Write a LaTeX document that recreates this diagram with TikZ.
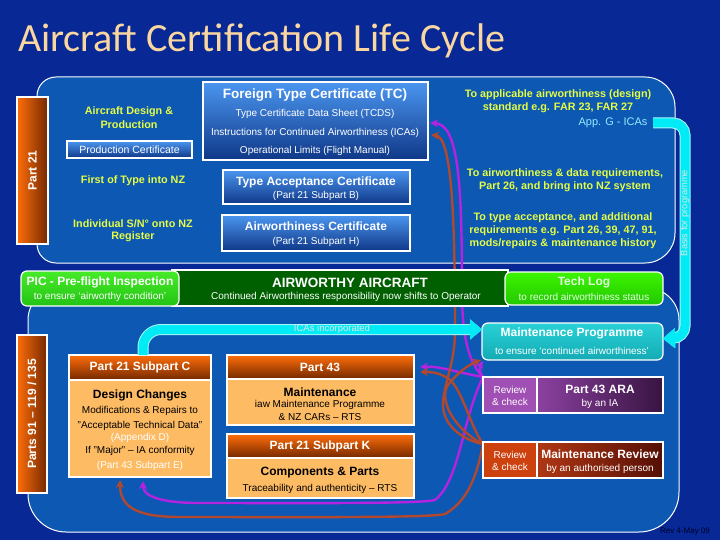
\documentclass[tikz,border=0pt]{standalone}
\usepackage{fontspec}
\setmainfont{Liberation Sans}
\newfontfamily\titlefont{Carlito}
\usetikzlibrary{arrows.meta,calc}
\pgfdeclarelayer{bg}
\pgfdeclarelayer{mid}
\pgfsetlayers{bg,mid,main}
\definecolor{bgblue}{RGB}{8,40,150}
\definecolor{panelblue}{RGB}{12,88,178}
\definecolor{ylw}{RGB}{228,252,70}
\definecolor{titlec}{RGB}{250,215,160}
\definecolor{boxtop}{RGB}{75,150,240}
\definecolor{boxbot}{RGB}{15,55,135}
\definecolor{orgL}{RGB}{255,110,10}
\definecolor{orgD}{RGB}{115,40,0}
\definecolor{lorange}{RGB}{253,187,100}
\definecolor{dgreen}{RGB}{0,96,0}
\definecolor{lgreenT}{RGB}{70,235,40}
\definecolor{lgreenB}{RGB}{35,195,20}
\definecolor{tlgT}{RGB}{60,245,0}
\definecolor{tlgB}{RGB}{35,200,0}
\definecolor{tealT}{RGB}{40,210,215}
\definecolor{tealB}{RGB}{20,170,180}
\definecolor{cyanband}{RGB}{0,235,245}
\definecolor{purp}{RGB}{180,35,225}
\definecolor{brn}{RGB}{178,72,45}
\definecolor{araL}{RGB}{160,80,180}
\definecolor{araR1}{RGB}{140,65,160}
\definecolor{araR2}{RGB}{55,20,65}
\definecolor{mrL}{RGB}{205,65,15}
\definecolor{mrR1}{RGB}{175,55,20}
\definecolor{mrR2}{RGB}{85,15,5}
\definecolor{palecyan}{RGB}{150,235,255}
\tikzset{
 rectbox/.style={draw=white, line width=1.2pt, anchor=north west, inner sep=0pt, outer sep=0pt},
 bluegrad/.style={rectbox, top color=boxtop, bottom color=boxbot},
 orangebar/.style={rectbox, left color=orgL, right color=orgD},
 orghead/.style={rectbox, top color=orgL, bottom color=orgD},
 orgbody/.style={rectbox, fill=lorange},
 panel/.style={draw=white, line width=1pt, fill=panelblue},
 ytxt/.style={text=ylw, font=\bfseries\fontsize{10.8}{13}\selectfont},
 wtxt/.style={text=white, font=\fontsize{10}{12}\selectfont},
 wbold/.style={text=white, font=\bfseries\fontsize{12}{14}\selectfont},
 ktxt/.style={text=black, font=\fontsize{10}{12}\selectfont},
 kbold/.style={text=black, font=\bfseries\fontsize{12}{14}\selectfont},
 conn/.style={line width=2.4pt, -{Stealth[length=8pt,width=8pt]}},
 pconn/.style={conn, draw=purp},
 bconn/.style={conn, draw=brn},
 band/.style={draw=cyanband, line width=9pt, preaction={draw=white!65!cyanband, line width=11pt}},
 bandtip/.style={-{Triangle[length=12pt,width=20pt,line width=0.1pt]}},
}
\begin{document}
\begin{tikzpicture}[x=1pt,y=-1pt]
\useasboundingbox (0,0) rectangle (720,540);

% panels
\begin{pgfonlayer}{bg}
\fill[bgblue] (0,0) rectangle (720,540);
\path[panel] (56,77) -- (645,77) .. controls (661.6,77) and (675,90.4) .. (675,107)
  -- (675,233) .. controls (675,249.6) and (661.6,263) .. (645,263)
  -- (56,263) .. controls (45.5,263) and (37,254.5) .. (37,244)
  -- (37,96) .. controls (37,85.5) and (45.5,77) .. (56,77) -- cycle;
\path[panel] (60,288) -- (647,288) .. controls (664.7,288) and (679,302.3) .. (679,320)
  -- (679,492) .. controls (679,514.1) and (661.1,532) .. (639,532)
  -- (66,532) .. controls (45,532) and (28,515) .. (28,494)
  -- (28,320) .. controls (28,302.3) and (42.3,288) .. (60,288) -- cycle;
\end{pgfonlayer}

% title
\node[anchor=base west, inner sep=0pt, text=titlec, font=\titlefont\fontsize{40}{48}\selectfont] (title) at (18,52) {Aircraft Certification Life Cycle};

% ---- top panel content
\node[orangebar, minimum width=31pt, minimum height=147pt] (p21bar) at (17,97) {};
\node[wbold, rotate=90] (p21txt) at (p21bar.center) {Part 21};

\node[ytxt] (adp1) at (129,112) {Aircraft Design \&};
\node[ytxt] (adp2) at (129,125) {Production};
\node[bluegrad, minimum width=125pt, minimum height=17pt] (pc) at (67,141) {};
\node[wtxt, font=\fontsize{10.5}{12}\selectfont] (pct) at (pc.center) {Production Certificate};
\node[ytxt] (fti) at (133,181) {First of Type into NZ};
\node[ytxt] (isn1) at (133,224) {Individual S/N° onto NZ};
\node[ytxt] (isn2) at (133,237) {Register};

\node[bluegrad, minimum width=225pt, minimum height=78pt] (tc) at (203,82) {};
\node[wbold, font=\bfseries\fontsize{13.5}{15}\selectfont] (tc1) at (315,95) {Foreign Type Certificate (TC)};
\node[wtxt] (tc2) at (315,114) {Type Certificate Data Sheet (TCDS)};
\node[wtxt] (tc3) at (315,133) {Instructions for Continued Airworthiness (ICAs)};
\node[wtxt] (tc4) at (315,151) {Operational Limits (Flight Manual)};

\node[bluegrad, minimum width=187pt, minimum height=34pt] (tac) at (223,170) {};
\node[wbold] (tac1) at (316,182) {Type Acceptance Certificate};
\node[wtxt] (tac2) at (316,196) {(Part 21 Subpart B)};
\node[bluegrad, minimum width=188pt, minimum height=36pt] (awc) at (222,215) {};
\node[wbold] (awc1) at (316,226) {Airworthiness Certificate};
\node[wtxt] (awc2) at (316,242) {(Part 21 Subpart H)};

\node[ytxt] (std1) at (558,95) {To applicable airworthiness (design)};
\node[ytxt] (std2) at (558,108) {standard e.g. FAR 23, FAR 27};
\node[anchor=east, text=palecyan, font=\fontsize{11}{13}\selectfont] (appg) at (651,123) {App. G - ICAs};
\node[ytxt] (nz1) at (565,174) {To airworthiness \& data requirements,};
\node[ytxt] (nz2) at (565,187) {Part 26, and bring into NZ system};
\node[ytxt] (ta1) at (563,218) {To type acceptance, and additional};
\node[ytxt] (ta2) at (563,231) {requirements e.g. Part 26, 39, 47, 91,};
\node[ytxt] (ta3) at (563,244) {mods/repairs \& maintenance history};

% ---- middle bars
\node[rectbox, fill=dgreen, minimum width=336pt, minimum height=36pt] (awbar) at (172,270) {};
\node[wbold, font=\bfseries\fontsize{13.5}{15}\selectfont] (aw1) at (350,283) {AIRWORTHY AIRCRAFT};
\node[wtxt] (aw2) at (346,297) {Continued Airworthiness responsibility now shifts to Operator};

\node[rectbox, rounded corners=6pt, top color=lgreenT, bottom color=lgreenB, minimum width=158pt, minimum height=35pt] (pic) at (21,271) {};
\node[wbold] (pic1) at (100,282) {PIC - Pre-flight Inspection};
\node[wtxt] (pic2) at (100,297) {to ensure `airworthy condition'};

\node[rectbox, rounded corners=6pt, top color=tlgT, bottom color=tlgB, minimum width=158pt, minimum height=33pt] (tl) at (505,272) {};
\node[wbold, text=white!88!green] (tl1) at (584,282) {Tech Log};
\node[wtxt, text=white!88!green] (tl2) at (584,297) {to record airworthiness status};

\node[rectbox, rounded corners=6pt, top color=tealT, bottom color=tealB, minimum width=181pt, minimum height=37pt] (mp) at (482,323) {};
\node[wbold] (mp1) at (572,333) {Maintenance Programme};
\node[wtxt] (mp2) at (572,351) {to ensure `continued airworthiness'};

% ---- bottom panel content
\node[orangebar, minimum width=30pt, minimum height=158pt] (p91bar) at (17,335) {};
\node[wbold, rotate=90] (p91txt) at (p91bar.center) {Parts 91 – 119 / 135};

\node[orghead, minimum width=142pt, minimum height=25pt] (p21ch) at (69,355) {};
\node[orgbody, minimum width=142pt, minimum height=97pt] (p21cb) at (69,380) {};
\node[wbold] (p21c0) at (140,367) {Part 21 Subpart C};
\node[kbold] (p21c1) at (140,395) {Design Changes};
\node[ktxt] (p21c2) at (140,411) {Modifications \& Repairs to};
\node[ktxt] (p21c3) at (140,426) {"Acceptable Technical Data"};
\node[wtxt] (p21c4) at (140,438) {(Appendix D)};
\node[ktxt] (p21c5) at (140,451) {If "Major" – IA conformity};
\node[wtxt] (p21c6) at (140,466) {(Part 43 Subpart E)};

\node[orghead, minimum width=187pt, minimum height=24pt] (p43h) at (227,355) {};
\node[orgbody, minimum width=187pt, minimum height=46pt] (p43b) at (227,379) {};
\node[wbold] (p430) at (320,367) {Part 43};
\node[kbold] (p431) at (320,392) {Maintenance};
\node[ktxt] (p432) at (320,405) {iaw Maintenance Programme};
\node[ktxt] (p433) at (320,417) {\& NZ CARs – RTS};

\node[orghead, minimum width=187pt, minimum height=24pt] (p21kh) at (227,434) {};
\node[orgbody, minimum width=187pt, minimum height=40pt] (p21kb) at (227,458) {};
\node[wbold] (p21k0) at (320,446) {Part 21 Subpart K};
\node[kbold] (p21k1) at (320,473) {Components \& Parts};
\node[ktxt] (p21k2) at (320,489) {Traceability and authenticity – RTS};

\node[rectbox, fill=araL, minimum width=54pt, minimum height=36pt] (arl) at (483,377) {};
\node[rectbox, left color=araR1, right color=araR2, minimum width=126pt, minimum height=36pt] (arr) at (537,377) {};
\node[wtxt] (arl1) at (510,390) {Review};
\node[wtxt] (arl2) at (510,402) {\& check};
\node[wbold] (arr1) at (600,389) {Part 43 ARA};
\node[wtxt] (arr2) at (600,404) {by an IA};

\node[rectbox, fill=mrL, minimum width=54pt, minimum height=36pt] (mrl) at (483,442) {};
\node[rectbox, left color=mrR1, right color=mrR2, minimum width=126pt, minimum height=36pt] (mrr) at (537,442) {};
\node[wtxt] (mrl1) at (510,455) {Review};
\node[wtxt] (mrl2) at (510,467) {\& check};
\node[wbold] (mrr1) at (600,454) {Maintenance Review};
\node[wtxt] (mrr2) at (600,469) {by an authorised person};

\node[text=black!85!blue, font=\fontsize{8}{9}\selectfont] (rev) at (685,532) {Rev 4-May 09};

% ---- purple / brown connectors
\begin{pgfonlayer}{mid}
\coordinate (pA) at (arl.north west);
\coordinate (bA) at ($(mrl.north west)+(0,2)$);
% purple
\draw[pconn] (pA) .. controls (468,362) and (462,335) .. (462,290)
  .. controls (462,180) and (458,124) .. ($(tc.east)+(2,2)$);
\draw[pconn] (pA) .. controls (455,372) and (440,366) .. ($(p43h.east)+(6,0)$);
\draw[pconn] (pA) .. controls (478,370) and (480,366) .. ($(mp.south west)+(1,1)$);
\draw[pconn] (pA) .. controls (462,420) and (460,480) .. (435,500)
  .. controls (420,504) and (300,503) .. (200,503)
  .. controls (160,503) and (143,496) .. ($(p21cb.south)+(3,4)$);
% brown
\draw[bconn] (bA) .. controls (462,440) and (443,425) .. (443,405)
  .. controls (443,385) and (455,365) .. (455,330)
  .. controls (455,220) and (452,137) .. ($(tc.east)+(3,14)$);
\draw[bconn] (bA) .. controls (470,425) and (462,390) .. (450,380)
  .. controls (440,372) and (430,372) .. ($(p43h.east)+(6,5)$);
\draw[bconn] (bA) .. controls (455,430) and (438,400) .. (448,385)
  .. controls (458,372) and (470,364) .. ($(mp.south west)+(-1,0)$);
\draw[bconn] (bA) .. controls (478,470) and (470,500) .. (445,514)
  .. controls (430,518) and (300,517) .. (180,517)
  .. controls (135,517) and (120,506) .. ($(p21cb.south)+(-20,3)$);
\end{pgfonlayer}

% ---- cyan bands
\draw[band, bandtip, rounded corners=12pt] ($(appg.east)+(2,0)$) -| (685,338) -- ($(mp.east)+(0,-3)$);
\draw[band, bandtip, rounded corners=18pt] ($(p21ch.north)+(3,0)$) |- ($(mp.west)+(0,-12)$);
\node[text=white!80!gray, font=\fontsize{9.3}{11}\selectfont, rotate=90] (basis) at (685,213) {Basis for programme};
\node[text=white!80!gray, font=\fontsize{9.5}{11}\selectfont] (icas) at (332,329) {ICAs incorporated};
\end{tikzpicture}
\end{document}
